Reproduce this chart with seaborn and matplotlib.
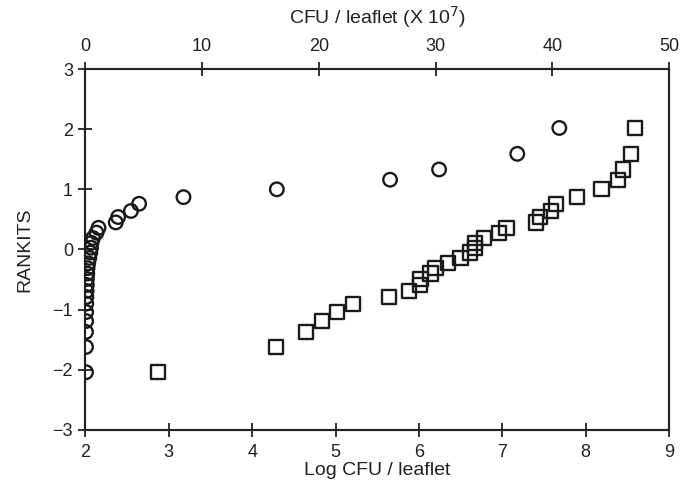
import matplotlib
matplotlib.use("Agg")
import matplotlib.pyplot as plt
import seaborn as sns
import pandas as pd

# Rankits (shared by both series)
rankits = [-2.04, -1.62, -1.37, -1.19, -1.04, -0.90, -0.79, -0.69, -0.59, -0.49,
           -0.40, -0.31, -0.23, -0.14, -0.05, 0.03, 0.11, 0.19, 0.28, 0.36,
           0.45, 0.54, 0.64, 0.76, 0.87, 1.00, 1.16, 1.33, 1.59, 2.02]

# Squares: Log CFU / leaflet (bottom axis)
log_cfu = [2.87, 4.29, 4.65, 4.84, 5.02, 5.21, 5.64, 5.88, 6.01, 6.02,
           6.14, 6.20, 6.35, 6.50, 6.61, 6.67, 6.67, 6.78, 6.96, 7.05,
           7.40, 7.45, 7.58, 7.64, 7.90, 8.19, 8.39, 8.45, 8.54, 8.59]

# Circles: CFU / leaflet (x 10^7) (top axis)
cfu = [0.05, 0.05, 0.05, 0.06, 0.06, 0.07, 0.08, 0.10, 0.12, 0.13,
       0.16, 0.18, 0.24, 0.33, 0.42, 0.48, 0.52, 0.65, 0.95, 1.12,
       2.6, 2.8, 3.9, 4.6, 8.4, 16.4, 26.1, 30.3, 37.0, 40.6]

bottom_ticks = [2, 3, 4, 5, 6, 7, 8, 9]
top_ticks = [0, 10, 20, 30, 40, 50]
y_ticks = [-3, -2, -1, 0, 1, 2, 3]

sns.set_theme(style="white")
plt.rcParams['font.family'] = ['Liberation Sans', 'DejaVu Sans']

fig = plt.figure(figsize=(6.9, 4.88), dpi=100)
ax = fig.add_axes([0.1238, 0.1189, 0.8458, 0.7397])
ax2 = ax.twiny()

df_sq = pd.DataFrame({"log": log_cfu, "rank": rankits})
df_ci = pd.DataFrame({"cfu": cfu, "rank": rankits})

sns.scatterplot(data=df_sq, x="log", y="rank", ax=ax, marker="s", s=105,
                facecolor="none", edgecolor="#1a1a1a", linewidth=1.7, zorder=3)
sns.scatterplot(data=df_ci, x="cfu", y="rank", ax=ax2, marker="o", s=95,
                facecolor="none", edgecolor="#1a1a1a", linewidth=1.7, zorder=3)

ax.set_xlim(2, 9)
ax.set_ylim(-3, 3)
ax2.set_xlim(0, 50)
ax2.set_ylim(-3, 3)

ax.set_xticks(bottom_ticks)
ax.set_yticks(y_ticks)
ax2.set_xticks(top_ticks)

for a in (ax, ax2):
    for sp in a.spines.values():
        sp.set_visible(True)
        sp.set_color("#222222")
        sp.set_linewidth(1.5)

ax.tick_params(axis="x", direction="inout", length=10, width=1.3,
               color="#222222", labelsize=13, labelcolor="#222222", pad=5,
               bottom=True, top=False)
ax.tick_params(axis="y", direction="inout", length=10, width=1.3,
               color="#222222", labelsize=13, labelcolor="#222222", pad=4,
               left=True, right=False)
ax2.tick_params(axis="x", direction="inout", length=10, width=1.3, color="#222222",
                labelsize=13, labelcolor="#222222", pad=5, top=True, bottom=False,
                labeltop=True, labelbottom=False)
ax2.tick_params(axis="y", left=False, right=False, labelleft=False, labelright=False)

ax.set_xlabel("Log CFU / leaflet", fontsize=14, color="#222222", labelpad=1)
ax.set_ylabel("RANKITS", fontsize=14, color="#222222", labelpad=14)
ax2.set_xlabel("CFU / leaflet (X 10$^{7}$)", fontsize=14, color="#222222", labelpad=10)
ax.grid(False)
ax2.grid(False)

fig.savefig("out.png", dpi=100)
